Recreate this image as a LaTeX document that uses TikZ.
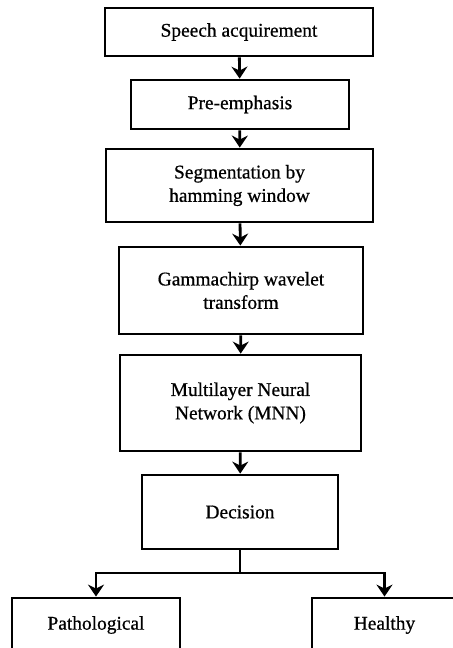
\documentclass[tikz,border=0pt]{standalone}
\usepackage{fontspec}
\setmainfont{Liberation Serif}[FakeBold=0.7]
\usetikzlibrary{arrows.meta}

\begin{document}
\begin{tikzpicture}[x=0.5pt, y=-0.5pt,
    font=\fontsize{9.7}{11.7}\selectfont,
    stage/.style={draw, line width=1.4pt, align=center, inner sep=0pt},
    flow/.style={line width=1.4pt, -{Stealth[length=6pt,width=8pt,inset=2pt]}}]
    % Bingkai gambar
    \useasboundingbox (0,0) rectangle (453,648);

    % Tahapan utama
    \node[stage, minimum width=134pt, minimum height=24pt] (acq) at (239,32) {Speech acquirement};
    \node[stage, minimum width=109pt, minimum height=24.5pt] (pre) at (240,104.5) {Pre-emphasis};
    \node[stage, minimum width=133.5pt, minimum height=36.5pt] (seg) at (239.5,185.5) {Segmentation by\\hamming window};
    \node[stage, minimum width=122pt, minimum height=43.5pt] (gwt) at (241,290.5) {Gammachirp wavelet\\transform};
    \node[stage, minimum width=120.5pt, minimum height=48pt] (mnn) at (240.5,403) {Multilayer Neural\\Network (MNN)};
    \node[stage, minimum width=98pt, minimum height=37pt] (dec) at (240,512) {Decision};

    % Kelas keluaran
    \node[stage, minimum width=84pt, minimum height=27pt] (patho) at (96,625) {Pathological};
    \node[stage, minimum width=72.5pt, minimum height=27pt] (healthy) at (384.5,625) {Healthy};

    % Panah antar tahap
    \draw[flow] (acq) -- (pre);
    \draw[flow] (pre) -- (seg);
    \draw[flow] (seg) -- (gwt);
    \draw[flow] (gwt) -- (mnn);
    \draw[flow] (mnn) -- (dec);

    % Percabangan keputusan
    \coordinate (fork) at (240,573);
    \draw[line width=1.4pt] (dec) -- (fork);
    \draw[flow] (fork) -| (patho);
    \draw[flow] (fork) -| (healthy);
\end{tikzpicture}
\end{document}
